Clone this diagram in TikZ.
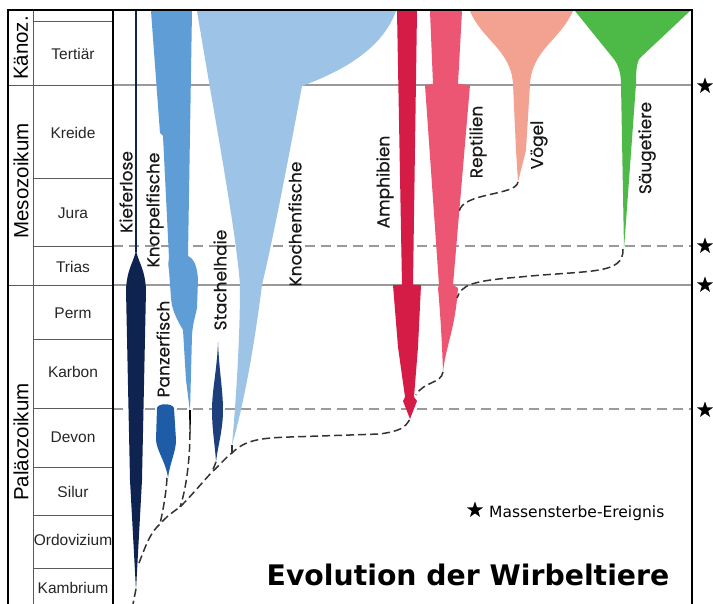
\documentclass[tikz,border=0pt]{standalone}
\usepackage{fontspec}
\setmainfont{Liberation Sans}
\newfontfamily\labfont[FakeBold=0.4]{Poppins}
\newfontfamily\dvfont{DejaVu Sans}
\usetikzlibrary{shapes.geometric}
\definecolor{kiefer}{HTML}{0F2350}
\definecolor{knorpel}{HTML}{5E9DD6}
\definecolor{panzer}{HTML}{1F5CA8}
\definecolor{stachel}{HTML}{1D3F7C}
\definecolor{knochen}{HTML}{9DC3E6}
\definecolor{amph}{HTML}{D41C46}
\definecolor{rept}{HTML}{EC5672}
\definecolor{voegel}{HTML}{F3A190}
\definecolor{saeuger}{HTML}{4DB947}
\definecolor{gridgray}{HTML}{9A9A9A}
\definecolor{colgray}{HTML}{5A5A5A}
\definecolor{conngray}{HTML}{333333}
\tikzset{
  frame/.style={line width=2.5pt, black},
  colline/.style={line width=0.9pt, colgray},
  gridsolid/.style={line width=1.1pt, gridgray},
  griddash/.style={line width=1.1pt, gridgray, dash pattern=on 10pt off 6pt},
  conn/.style={line width=1.5pt, conngray, dash pattern=on 8pt off 4pt},
  period/.style={font=\fontsize{15.5}{17}\selectfont, text=black!85, inner sep=0pt},
  era/.style={font=\fontsize{20.5}{22}\selectfont, rotate=90, inner sep=0pt},
  group/.style={font=\labfont\fontsize{17}{19}\selectfont, rotate=90, inner sep=0pt, text=black!90},
  mstar/.style={star, star points=5, star point ratio=2.5, fill=black, draw=none, minimum size=17pt, inner sep=0pt}
}
\begin{document}
\begin{tikzpicture}[x=1pt,y=-1pt]
\useasboundingbox (0,0) rectangle (713,604);
\fill[white] (0,0) rectangle (713,604);

% grid lines in chart
\draw[gridsolid] (113,85) -- (692,85);
\draw[griddash] (113,246) -- (692,246);
\draw[gridsolid] (113,285) -- (692,285);
\draw[griddash] (113,409) -- (692,409);

% period column lines
\draw[colline] (33,10) -- (33,604);
\foreach \yy in {21,178,246,339,408,467,515,568} {\draw[colline] (33,\yy) -- (113,\yy);}
\draw[colline] (8,85) -- (113,85);
\draw[colline] (8,285) -- (113,285);

% Knochenfische
\fill[knochen] (197,11) -- (396,11) .. controls (382,50) and (340,72) .. (302,86)
  .. controls (290,150) and (275,230) .. (262,285)
  .. controls (255,340) and (245,400) .. (232,445)
  .. controls (236,400) and (240,340) .. (240,285)
  .. controls (236,230) and (215,120) .. (197,11) -- cycle;

% Knorpelfische
\fill[knorpel] (151,11) -- (192,11) -- (188,256) .. controls (192,258) and (197,262) .. (198,280)
  -- (197,308) .. controls (195,318) and (193,322) .. (192,335) -- (190,412) -- (186,380)
  -- (183,330) .. controls (176,318) and (172,310) .. (171,298) -- (169,270)
  .. controls (168,264) and (168,262) .. (169,258) -- (163,136) -- (160,133) -- cycle;
\fill[black] (189,410) -- (191,410) -- (190.6,433) -- (189.6,433) -- cycle;

% Kieferlose
\draw[kiefer, line width=1.6pt] (136,11) -- (136,252);
\fill[kiefer] (136,250) .. controls (138,262) and (145,268) .. (146,290) -- (142,480) -- (136,590)
  -- (130,480) -- (126,290) .. controls (127,268) and (134,262) .. (136,250) -- cycle;

% Panzerfisch
\fill[panzer] (157,408) .. controls (158,403) and (172,403) .. (174,408) -- (176,440)
  .. controls (176,452) and (170,462) .. (168,478) .. controls (166,462) and (157,452) .. (156,440) -- cycle;

% Stachelhaie
\fill[stachel] (218,342) .. controls (219,370) and (223,390) .. (223,410) .. controls (223,430) and (218,445) .. (216,462)
  .. controls (215,445) and (212,430) .. (212,410) .. controls (212,390) and (217,370) .. (218,342) -- cycle;

% Amphibien
\fill[amph] (397,11) -- (417,11) -- (413,285) -- (421,285) -- (418,347) -- (414,397) -- (417,401) -- (410,419)
  -- (403,401) -- (405,397) -- (398,347) -- (393,285) -- (402,285) -- cycle;

% Reptilien
\fill[rept] (430,11) -- (462,11) -- (458,84) -- (470,85) -- (453,285) -- (458,288)
  .. controls (455,330) and (446,345) .. (443,372) .. controls (442,340) and (440,310) .. (438,288)
  -- (439,285) -- (425,85) -- (433,84) -- cycle;

% Voegel
\fill[voegel] (470,11) -- (573,11) .. controls (560,40) and (532,50) .. (530,84) -- (526,150) -- (518,182)
  -- (516,150) -- (513,84) .. controls (511,50) and (482,40) .. (470,11) -- cycle;

% Saeugetiere
\fill[saeuger] (575,11) -- (690,11) -- (640,58) .. controls (636,63) and (636,75) .. (636,84) -- (624,249)
  -- (621,84) .. controls (621,75) and (619,65) .. (613,58) -- cycle;

% connector coordinates
\coordinate (kfTip) at (136,589);
\coordinate (kfEnd) at (133,604);
\coordinate (kfJoin) at (139,563);
\coordinate (pzTip) at (167,478);
\coordinate (pzJoin) at (160,524);
\coordinate (knTip) at (190,432);
\coordinate (knJoin) at (180,507);
\coordinate (shTip) at (216,462);
\coordinate (shJoin) at (212,472);
\coordinate (kcTip) at (232,445);
\coordinate (kcJoin) at (232,453);
\coordinate (tr1) at (290,437);
\coordinate (tr2) at (380,434);
\coordinate (amTip) at (410,419);
\coordinate (rpTip) at (443,372);
\coordinate (rpJoin) at (416,395);
\coordinate (vgTip) at (518,182);
\coordinate (vgJoin) at (459,212);
\coordinate (sgTip) at (623,249);
\coordinate (sgMid) at (520,277);
\coordinate (sgJoin) at (457,298);

\draw[conn] (kfTip) -- (kfEnd);
\draw[conn] (kfJoin) .. controls (146,545) and (150,533) .. (pzJoin)
  .. controls (167,516) and (173,512) .. (knJoin)
  .. controls (192,495) and (200,485) .. (shJoin)
  .. controls (220,465) and (226,457) .. (kcJoin)
  .. controls (245,440) and (260,438) .. (tr1) -- (tr2)
  .. controls (400,431) and (405,428) .. (amTip);
\draw[conn] (pzTip) .. controls (166,495) and (163,510) .. (pzJoin);
\draw[conn] (knTip) .. controls (190,460) and (186,490) .. (knJoin);
\draw[conn] (shTip) -- (shJoin);
\draw[conn] (kcTip) -- (kcJoin);
\draw[conn] (rpTip) .. controls (441,384) and (424,381) .. (rpJoin);
\draw[conn] (vgTip) .. controls (516,196) and (462,192) .. (vgJoin);
\draw[conn] (sgTip) .. controls (624,275) and (590,270) .. (sgMid) .. controls (470,281) and (462,285) .. (sgJoin);

% frame
\draw[frame] (8,604) -- (8,10) -- (692,10) -- (692,604);
\draw[frame] (113,10) -- (113,604);

% era labels
\node[era] (kaenoz) at (21,48) {Känoz.};
\node[era] (meso) at (21,181) {Mesozoikum};
\node[era] (palaeo) at (21,442) {Paläozoikum};

% period labels
\node[period] (tertiaer) at (73,54) {Tertiär};
\node[period] (kreide) at (73,133) {Kreide};
\node[period] (jura) at (73,213) {Jura};
\node[period] (trias) at (73,267) {Trias};
\node[period] (perm) at (73,313) {Perm};
\node[period] (karbon) at (73,372) {Karbon};
\node[period] (devon) at (73,437) {Devon};
\node[period] (silur) at (73,492) {Silur};
\node[period] (ordo) at (73,540) {Ordovizium};
\node[period] (kambrium) at (73,588) {Kambrium};

% group labels
\node[group] (lkief) at (126,192) {Kieferlose};
\node[group] (lknorp) at (155,210) {Knorpelfische};
\node[group] (lstach) at (220,280) {Stachelhaie};
\node[group] (lpanz) at (163,349) {Panzerfisch};
\node[group] (lknoch) at (295,224) {Knochenfische};
\node[group] (lamph) at (385,182) {Amphibien};
\node[group] (lrept) at (478,142) {Reptilien};
\node[group] (lvoeg) at (539,145) {Vögel};
\node[group] (lsaeug) at (647,148) {Säugetiere};

% mass extinction stars
\node[mstar] (s1) at (705,86) {};
\node[mstar] (s2) at (705,246) {};
\node[mstar] (s3) at (705,285) {};
\node[mstar] (s4) at (705,410) {};

% legend
\node[mstar] (legstar) at (475,510) {};
\node[anchor=base west, inner sep=0pt, font=\dvfont\fontsize{15.5}{17}\selectfont] (legtext) at (489,517) {Massensterbe-Ereignis};

% title
\node[anchor=base, inner sep=0pt, font=\dvfont\bfseries\fontsize{28.3}{30}\selectfont] (title) at (468,585) {Evolution der Wirbeltiere};
\end{tikzpicture}
\end{document}
